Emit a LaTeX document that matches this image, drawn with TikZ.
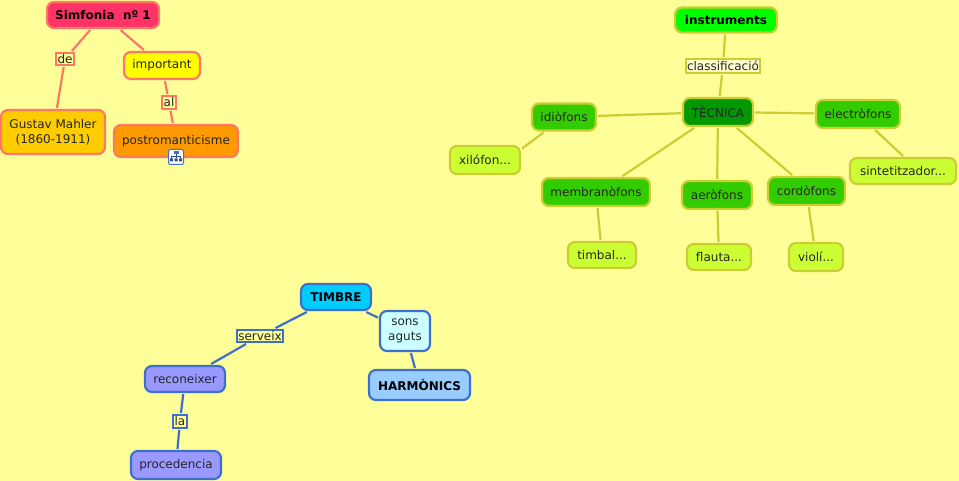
\documentclass[tikz,border=0pt]{standalone}
\usepackage{fontspec}
\setmainfont{DejaVu Sans}
\usepackage{tikz}
\definecolor{fondo}{HTML}{FFFF99}
\definecolor{salmon}{HTML}{FF7766}
\definecolor{oliva}{HTML}{CCCC33}
\definecolor{blau}{HTML}{3F6FCC}
\begin{document}
\begin{tikzpicture}[
        x=1pt, y=-1pt,
        every node/.style={font=\fontsize{12}{15}\selectfont, text=black!85, align=center, inner sep=0pt, outer sep=2pt},
        concept/.style={draw, rounded corners=7pt, line width=2.2pt},
        enllac/.style={draw, fill=fondo, line width=2pt},
        titol/.style={font=\fontsize{12}{15}\selectfont\bfseries, text=black},
        roig/.style={draw=salmon},
        verd/.style={draw=oliva},
        blue/.style={draw=blau},
        familia/.style={concept, verd, fill={rgb,255:red,51;green,204;blue,0}},
        exemple/.style={concept, verd, fill={rgb,255:red,204;green,255;blue,51}},
        wire/.style={line width=2.2pt}
      ]
      \useasboundingbox[fill=fondo] (0,0) rectangle (959,481);
      \node[concept, roig, titol, fill={rgb,255:red,255;green,51;blue,102}, minimum width=112pt, minimum height=26pt] (simfonia) at (103,15) {Simfonia\ \ nº 1};
      \node[concept, roig, fill={rgb,255:red,255;green,204;blue,0}, minimum width=104pt, minimum height=44pt] (mahler) at (53,132) {Gustav Mahler\\(1860-1911)};
      \node[concept, roig, fill={rgb,255:red,255;green,255;blue,0}, minimum width=76pt, minimum height=27pt] (important) at (162,65.5) {important};
      \node[concept, roig, fill={rgb,255:red,255;green,153;blue,0}, minimum width=124pt, minimum height=32pt] (postrom) at (176,141) {postromanticisme};
      \node[enllac, roig, minimum width=18pt, minimum height=12pt] (de) at (65,59) {de};
      \node[enllac, roig, minimum width=14pt, minimum height=13pt] (al) at (169,102.5) {al};
      \draw[wire, salmon] (simfonia) -- (de);
      \draw[wire, salmon] (de) -- (mahler);
      \draw[wire, salmon] (simfonia) -- (important);
      \draw[wire, salmon] (important) -- (al);
      \draw[wire, salmon] (al) -- (postrom);
      \node[draw=blau, fill=white, rounded corners=2pt, line width=1pt, minimum size=15pt, outer sep=0pt] (esquema) at (176,157) {};
      \fill[blau] (173.5,151.5) rectangle (178.5,154.5);
      \fill[blau!70!black] (170,158.5) rectangle (173,161.5) (174.5,158.5) rectangle (177.5,161.5) (179,158.5) rectangle (182,161.5);
      \draw[blau!70!black, line width=.6pt] (176,154.5) -- (176,158.5) (171.5,158.5) -- (171.5,156.5) -- (180.5,156.5) -- (180.5,158.5);

      \node[concept, verd, titol, fill={rgb,255:red,0;green,255;blue,0}, minimum width=102pt, minimum height=25pt] (instruments) at (726,20) {instruments};
      \node[enllac, verd, fill={rgb,255:red,255;green,255;blue,204}, minimum width=74pt, minimum height=14pt] (classif) at (723,66) {classificació};
      \node[concept, verd, fill={rgb,255:red,0;green,153;blue,0}, minimum width=70pt, minimum height=28pt] (tecnica) at (718,112) {TÈCNICA};
      \node[familia, minimum width=64pt, minimum height=27pt] (idiofons) at (564,117) {idiòfons};
      \node[familia, minimum width=84pt, minimum height=28pt] (electrofons) at (858,114) {electròfons};
      \node[familia, minimum width=108pt, minimum height=28pt] (membrano) at (596,192) {membranòfons};
      \node[familia, minimum width=70pt, minimum height=28pt] (aerofons) at (717,195) {aeròfons};
      \node[familia, minimum width=77pt, minimum height=28pt] (cordofons) at (806.5,191) {cordòfons};
      \node[exemple, minimum width=70pt, minimum height=28pt] (xilofon) at (485,160) {xilófon...};
      \node[exemple, minimum width=106pt, minimum height=26pt] (sintetitzador) at (903,171) {sintetitzador...};
      \node[exemple, minimum width=68pt, minimum height=26pt] (timbal) at (602,255) {timbal...};
      \node[exemple, minimum width=64pt, minimum height=26pt] (flauta) at (719,257) {flauta...};
      \node[exemple, minimum width=54pt, minimum height=28pt] (violi) at (816,257) {violí...};
      \draw[wire, oliva] (instruments) -- (classif);
      \draw[wire, oliva] (classif) -- (tecnica);
      \draw[wire, oliva] (tecnica) -- (idiofons);
      \draw[wire, oliva] (tecnica) -- (electrofons);
      \draw[wire, oliva] (tecnica) -- (membrano.31);
      \draw[wire, oliva] (tecnica) -- (aerofons);
      \draw[wire, oliva] (tecnica) -- (cordofons.132);
      \draw[wire, oliva] (idiofons) -- (xilofon.17);
      \draw[wire, oliva] (electrofons) -- (sintetitzador.north);
      \draw[wire, oliva] (membrano) -- (timbal);
      \draw[wire, oliva] (aerofons) -- (flauta);
      \draw[wire, oliva] (cordofons) -- (violi);

      \node[concept, blue, titol, fill={rgb,255:red,0;green,204;blue,255}, minimum width=70pt, minimum height=26pt] (timbre) at (336,297) {TIMBRE};
      \node[concept, blue, fill={rgb,255:red,204;green,255;blue,255}, minimum width=50pt, minimum height=40pt] (sons) at (405,331) {sons\\aguts};
      \node[concept, blue, titol, fill={rgb,255:red,153;green,204;blue,255}, minimum width=101pt, minimum height=30pt] (harmonics) at (419.5,385) {HARMÒNICS};
      \node[concept, blue, fill={rgb,255:red,153;green,153;blue,255}, minimum width=80pt, minimum height=26pt] (reconeixer) at (185,379) {reconeixer};
      \node[concept, blue, fill={rgb,255:red,153;green,153;blue,255}, minimum width=90pt, minimum height=28pt] (procedencia) at (176,465) {procedencia};
      \node[enllac, blue, minimum width=46pt, minimum height=12pt] (serveix) at (260,336) {serveix};
      \node[enllac, blue, minimum width=14pt, minimum height=13pt] (la) at (180,421.5) {la};
      \draw[wire, blau] (timbre) -- (sons);
      \draw[wire, blau] (sons) -- (harmonics);
      \draw[wire, blau] (timbre) -- (serveix);
      \draw[wire, blau] (serveix) -- (reconeixer);
      \draw[wire, blau] (reconeixer) -- (la);
      \draw[wire, blau] (la) -- (procedencia);
    \end{tikzpicture}
\end{document}
